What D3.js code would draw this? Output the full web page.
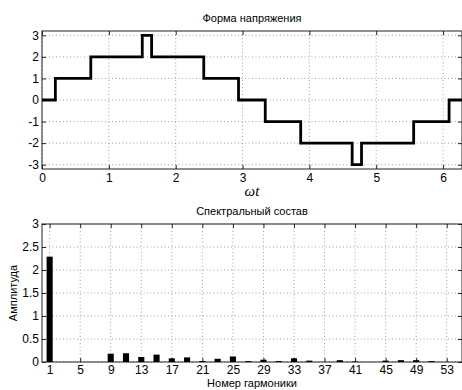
<!DOCTYPE html>
<html>
<head>
<meta charset="utf-8">
<script src="https://cdn.jsdelivr.net/npm/d3@7"></script>
<style>
  body { margin: 0; background: #fff; }
  text { font-family: "Liberation Sans", Arial, sans-serif; fill: #000; }
  .grid line { stroke: #8a8a8a; stroke-width: 0.8; stroke-dasharray: 1,2.5; }
  .ax path { display: none; }
  .ax line { stroke: #222; }
  .ax text { font-size: 12px; font-family: "Liberation Sans", Arial, sans-serif; }
</style>
</head>
<body>
<div id="chart"></div>
<script>
// waveform: level starts at each time, holds until the next one
var stepTimes  = [0, 0.2, 0.73, 1.5, 1.64, 2.42, 2.94, 3.34, 3.87, 4.64, 4.78, 5.56, 6.09];
var stepLevels = [0, 1, 2, 3, 2, 1, 0, -1, -2, -3, -2, -1, 0];
var waveTicksX = [0, 1, 2, 3, 4, 5, 6];
var waveTicksY = [-3, -2, -1, 0, 1, 2, 3];

// spectrum (odd harmonics, even ones are zero)
var harmonics  = [1, 3, 5, 7, 9, 11, 13, 15, 17, 19, 21, 23, 25, 27, 29, 31, 33, 35, 37, 39, 41, 43, 45, 47, 49, 51, 53];
var amplitudes = [2.29, 0, 0, 0, 0.18, 0.19, 0.11, 0.16, 0.08, 0.10, 0.02, 0.07, 0.12, 0.02, 0.05, 0.02, 0.08, 0.03, 0, 0.04, 0.01, 0, 0.03, 0.04, 0.04, 0.02, 0];
var specTicksX = [1, 5, 9, 13, 17, 21, 25, 29, 33, 37, 41, 45, 49, 53];
var specTicksY = [0, 0.5, 1, 1.5, 2, 2.5, 3];

var w = 462, h = 390;
var left = 42, right = 462;

// plain hyphen minus like the original
var fmt = d => String(d);

var svg = d3.select("#chart").append("svg")
  .attr("width", w).attr("height", h);

function frame(x, y, top, bottom, ticksX, ticksY, padX) {
  var g = svg.append("g");
  // grid
  g.append("g").attr("class", "grid")
    .selectAll("line").data(ticksX).enter().append("line")
    .attr("x1", d => x(d)).attr("x2", d => x(d))
    .attr("y1", top).attr("y2", bottom);
  g.append("g").attr("class", "grid")
    .selectAll("line").data(ticksY).enter().append("line")
    .attr("x1", left).attr("x2", right)
    .attr("y1", d => y(d)).attr("y2", d => y(d));

  // ticks pointing inward
  g.append("g").attr("class", "ax")
    .attr("transform", "translate(0," + bottom + ")")
    .call(d3.axisBottom(x).tickValues(ticksX).tickSizeInner(-4).tickSizeOuter(0).tickPadding(padX).tickFormat(fmt));
  g.append("g").attr("class", "ax")
    .attr("transform", "translate(0," + top + ")")
    .call(d3.axisTop(x).tickValues(ticksX).tickSizeInner(-4).tickSizeOuter(0).tickFormat(""));
  g.append("g").attr("class", "ax")
    .attr("transform", "translate(" + left + ",0)")
    .call(d3.axisLeft(y).tickValues(ticksY).tickSizeInner(-4).tickSizeOuter(0).tickPadding(3).tickFormat(fmt));
  g.append("g").attr("class", "ax")
    .attr("transform", "translate(" + right + ",0)")
    .call(d3.axisRight(y).tickValues(ticksY).tickSizeInner(-4).tickSizeOuter(0).tickFormat(""));

  g.append("rect")
    .attr("x", left).attr("y", top)
    .attr("width", right - left).attr("height", bottom - top)
    .attr("fill", "none").attr("stroke", "#222").attr("stroke-width", 1);
  return g;
}

// ---- top: waveform ----
var x1 = d3.scaleLinear().domain([0, 2 * Math.PI]).range([left, right]);
var y1 = d3.scaleLinear().domain([-3.2, 3.2]).range([169, 31]);

frame(x1, y1, 31, 169, waveTicksX, waveTicksY, 4);

var wave = stepTimes.map((t, i) => [t, stepLevels[i]]);
wave.push([2 * Math.PI, stepLevels[stepLevels.length - 1]]);

svg.append("path")
  .datum(wave)
  .attr("fill", "none")
  .attr("stroke", "#000")
  .attr("stroke-width", 2.8)
  .attr("d", d3.line().x(d => x1(d[0])).y(d => y1(d[1])).curve(d3.curveStepAfter));

svg.append("text").attr("x", 252).attr("y", 22).attr("text-anchor", "middle")
  .style("font-size", "11px").text("Форма напряжения");
svg.append("text").attr("x", 252).attr("y", 196).attr("text-anchor", "middle")
  .style("font-family", "'Liberation Serif', serif").style("font-style", "italic")
  .style("font-size", "15px").text("ωt");

// ---- bottom: spectrum ----
var x2 = d3.scaleLinear().domain([0, 55]).range([left, right]);
var y2 = d3.scaleLinear().domain([0, 3]).range([362, 224]);

frame(x2, y2, 224, 362, specTicksX, specTicksY, 3);

var bw = x2(0.8) - x2(0);
svg.append("g").selectAll("rect")
  .data(harmonics)
  .enter().append("rect")
  .attr("x", d => x2(d) - bw / 2)
  .attr("y", (d, i) => y2(amplitudes[i]))
  .attr("width", bw)
  .attr("height", (d, i) => y2(0) - y2(amplitudes[i]))
  .attr("fill", "#000");

svg.append("text").attr("x", 252).attr("y", 215).attr("text-anchor", "middle")
  .style("font-size", "11px").text("Спектральный состав");
svg.append("text").attr("x", 252).attr("y", 387).attr("text-anchor", "middle")
  .style("font-size", "11px").text("Номер гармоники");
svg.append("text").attr("transform", "translate(17,293) rotate(-90)")
  .attr("text-anchor", "middle")
  .style("font-size", "11px").text("Амплитуда");
</script>
</body>
</html>
